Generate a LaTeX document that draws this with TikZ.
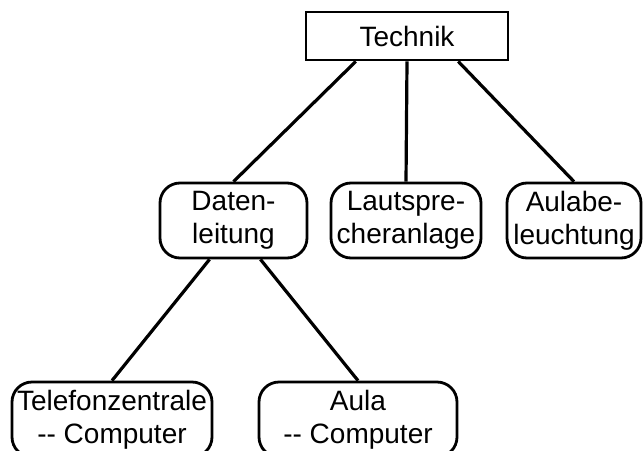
\documentclass[tikz,border=0pt]{standalone}
\usepackage{fontspec}
\setmainfont{Liberation Sans}
\usetikzlibrary{calc}
\begin{document}
\begin{tikzpicture}[x=1pt,y=-1pt,
  box/.style={draw=black,line width=2.8pt,inner sep=0pt,align=center,
    font=\fontsize{28}{33}\selectfont},
  rbox/.style={box,rounded corners=20pt},
  conn/.style={line width=3.2pt}]
\useasboundingbox (0,0) rectangle (644,450);
\clip (0,0) rectangle (644,450);
\node[box,minimum width=202pt,minimum height=48pt] (tech) at (407,36) {Technik};
\node[rbox,minimum width=147pt,minimum height=75pt] (daten) at (233.5,220.5) {Daten-\\leitung};
\node[rbox,minimum width=150pt,minimum height=75pt] (laut) at (406,220.5) {Lautspre-\\cheranlage};
\node[rbox,minimum width=134pt,minimum height=75pt] (aulab) at (574,220.5) {Aulabe-\\leuchtung};
\node[rbox,minimum width=200pt,minimum height=75pt] (tel) at (112,419.5) {Telefonzentrale\\-{}- Computer};
\node[rbox,minimum width=198pt,minimum height=75pt] (aula) at (358,419.5) {Aula\\-{}- Computer};
\draw[conn] ($(tech.south west)!0.25!(tech.south east)$) -- (daten.north);
\draw[conn] (tech.south) -- (laut.north);
\draw[conn] ($(tech.south west)!0.75!(tech.south east)$) -- (aulab.north);
\draw[conn] ($(daten.south west)!0.34!(daten.south east)$) -- (tel.north);
\draw[conn] ($(daten.south west)!0.68!(daten.south east)$) -- (aula.north);
\end{tikzpicture}
\end{document}
